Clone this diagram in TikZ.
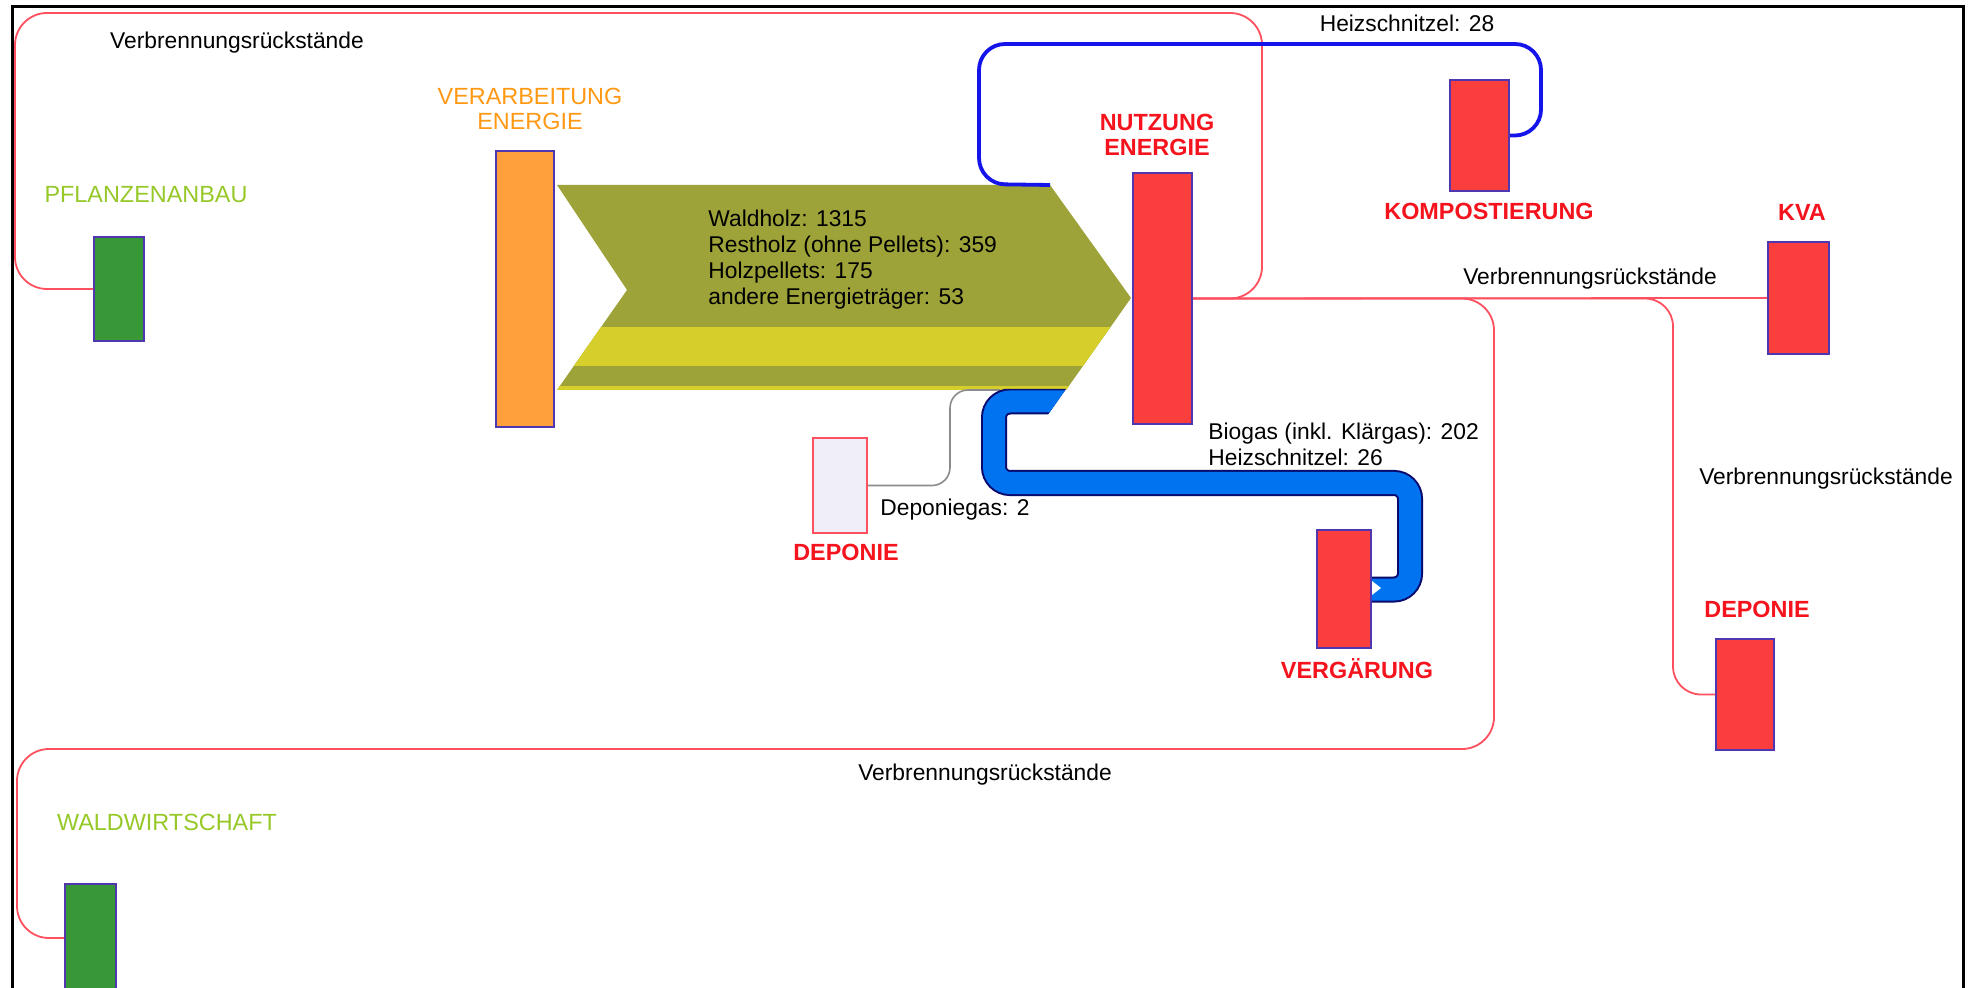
\documentclass[tikz,border=0pt]{standalone}
\usepackage{fontspec}
\setmainfont{Liberation Sans}
\usetikzlibrary{fit,calc}

\definecolor{boxred}{RGB}{250,62,62}
\definecolor{boxedge}{RGB}{80,55,175}
\definecolor{boxorange}{RGB}{255,160,60}
\definecolor{boxgreen}{RGB}{56,152,56}
\definecolor{lblred}{RGB}{245,20,30}
\definecolor{lblorange}{RGB}{255,153,20}
\definecolor{lblgreen}{RGB}{150,200,40}
\definecolor{flowred}{RGB}{255,80,95}
\definecolor{flowblue}{RGB}{20,20,235}
\definecolor{bandblue}{RGB}{0,115,240}
\definecolor{bandedge}{RGB}{10,10,110}
\definecolor{woodolive}{RGB}{157,163,56}
\definecolor{woodstraw}{RGB}{214,206,42}
\definecolor{landfill}{RGB}{240,238,248}

\begin{document}
\begin{tikzpicture}[x=0.5pt,y=-0.5pt,
  stock/.style={draw=boxedge, line width=1pt, inner sep=0pt, rectangle},
  redflow/.style={draw=flowred, line width=0.9pt},
  blueflow/.style={draw=flowblue, line width=1.9pt},
  greyflow/.style={draw=black!45, line width=0.8pt},
  flowtxt/.style={font=\fontsize{11.4}{13}\selectfont, inner sep=0pt, text=black, align=left},
  redlbl/.style={font=\fontsize{11.7}{12.5}\selectfont\bfseries, text=lblred, inner sep=0pt, align=center},
  orangelbl/.style={font=\fontsize{11.7}{12.5}\selectfont, text=lblorange, inner sep=0pt, align=center},
  greenlbl/.style={font=\fontsize{11.7}{12.5}\selectfont, text=lblgreen, inner sep=0pt}
]
\useasboundingbox (0,0) rectangle (1968,988);
\fill[white] (0,0) rectangle (1968,988);

% outer frame (open at the bottom)
\draw[line width=1.5pt] (12,995) -- (12,7) -- (1963,7) -- (1963,995);

% stocks
\node[stock, fill=boxgreen, fit={(94,237)(144,341)}] (pflanz) {};
\node[stock, fill=boxgreen, fit={(65,884)(116,992)}] (wald) {};
\node[stock, fill=boxorange, fit={(496,151)(554,427)}] (verarb) {};
\node[stock, fill=boxred, fit={(1133,173)(1192,424)}] (nutz) {};
\node[stock, fill=boxred, fit={(1450,80)(1509,191)}] (kompost) {};
\node[stock, fill=boxred, fit={(1768,242)(1829,354)}] (kva) {};
\node[stock, fill=boxred, fit={(1716,639)(1774,750)}] (dep2) {};
\node[stock, fill=boxred, fit={(1317,530)(1371,648)}] (verg) {};
\node[stock, draw=flowred, fill=landfill, fit={(813,438)(867,533)}] (dep1) {};

% main wood arrow between the two energy stocks
\coordinate (aNW) at (557,185);
\coordinate (aNE) at (1050,185);
\coordinate (aTip) at (1131,298);
\coordinate (aSE) at (1066,390);
\coordinate (aSW) at (557,390);
\coordinate (aNotch) at (627,290);
\fill[woodolive] (aNW) -- (aNE) -- (aTip) -- (aSE) -- (aSW) -- (aNotch) -- cycle;
\begin{scope}
  \clip (aNW) -- (aNE) -- (aTip) -- (aSE) -- (aSW) -- (aNotch) -- cycle;
  \fill[woodstraw] (540,327) rectangle (1200,366);
  \fill[woodstraw] (540,386) rectangle (1200,392);
\end{scope}
\node[flowtxt, anchor=north west] (woodtxt) at (708,210)
  {Waldholz: 1315\\Restholz (ohne Pellets): 359\\Holzpellets: 175\\andere Energieträger: 53};

% combustion residues
\draw[redflow, rounded corners=16pt] (nutz.east) -| (1262,13) -- (15,13) |- (pflanz.west);
\draw[redflow] (nutz.east) -- (kva.west);
\draw[redflow, rounded corners=14pt] (nutz.east) -| ($(dep2.west)+(-42,0)$) -- (dep2.west);
\draw[redflow, rounded corners=16pt] (nutz.east) -| (1494,749) -- (17,749) |- (wald.west);

% wood chips to composting
\draw[blueflow, rounded corners=13pt] (aNE) -- (979,184) -- (979,44) -- (1541,44) |- (kompost.east);

% landfill gas
\draw[greyflow, rounded corners=9pt] (dep1.east) -| (950,390) -- (1000,390);

% biogas band to digestion
\begin{scope}
  \clip (900,389) -- (1066,389) -- (1047,416) -- (1500,416) -- (1500,700) -- (900,700) -- cycle;
  \draw[bandedge, line width=13pt, rounded corners=8pt]
    (1070,401.5) -- (994,401.5) -- (994,483) -- (1410,483) -- (1410,589.5) -- (verg.east |- 0,589.5);
  \draw[bandblue, line width=11pt, rounded corners=8pt]
    (1070,401.5) -- (994,401.5) -- (994,483) -- (1410,483) -- (1410,589.5) -- (verg.east |- 0,589.5);
\end{scope}
\fill[white] (1372,581) -- (1381,588) -- (1372,595) -- cycle;

% stocks drawn again over the flow ends
\node[stock, fill=boxred, fit={(1317,530)(1371,648)}] {};
\node[stock, fill=boxred, fit={(1133,173)(1192,424)}] {};

% stock labels
\node[greenlbl, anchor=base] (lpflanz) at (146,203) {PFLANZENANBAU};
\node[greenlbl, anchor=base] (lwald) at (167,830) {WALDWIRTSCHAFT};
\node[orangelbl, anchor=south] (lverarb) at (530,130) {VERARBEITUNG\\ENERGIE};
\node[redlbl, anchor=south] (lnutz) at (1157,156) {NUTZUNG\\ENERGIE};
\node[redlbl, anchor=base] (lkompost) at (1489,220) {KOMPOSTIERUNG};
\node[redlbl, anchor=base] (lkva) at (1802,221) {KVA};
\node[redlbl, anchor=base] (ldep2) at (1757,617) {DEPONIE};
\node[redlbl, anchor=base] (lverg) at (1357,678) {VERGÄRUNG};
\node[redlbl, anchor=base] (ldep1) at (846,560) {DEPONIE};

% flow labels
\node[flowtxt, anchor=base] (t1) at (237,49) {Verbrennungsrückstände};
\node[flowtxt, anchor=base] (t2) at (1407,32) {Heizschnitzel: 28};
\node[flowtxt, anchor=base] (t3) at (1590,285) {Verbrennungsrückstände};
\node[flowtxt, anchor=base] (t4) at (1826,484) {Verbrennungsrückstände};
\node[flowtxt, anchor=base] (t5) at (985,780) {Verbrennungsrückstände};
\node[flowtxt, anchor=north west] (t6) at (1208,423) {Biogas (inkl. Klärgas): 202\\Heizschnitzel: 26};
\node[flowtxt, anchor=base west] (t7) at (880,516) {Deponiegas: 2};
\end{tikzpicture}
\end{document}
